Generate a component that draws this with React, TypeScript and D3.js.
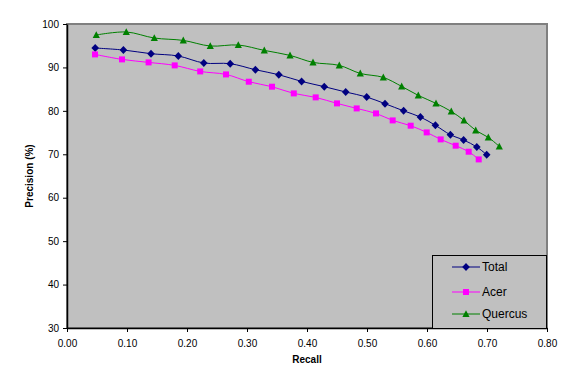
import React, { useEffect, useRef } from "react";
import * as d3 from "d3";

const totalRecall = [0.047, 0.094, 0.14, 0.1855, 0.228, 0.272, 0.314, 0.353, 0.391, 0.4288, 0.4645, 0.4995, 0.53, 0.561, 0.589, 0.614, 0.639, 0.661, 0.683, 0.6995];
const totalPrecision = [94.47, 94.01, 93.16, 92.63, 91.02, 90.86, 89.47, 88.32, 86.78, 85.57, 84.34, 83.19, 81.65, 80.0, 78.58, 76.67, 74.49, 73.29, 71.68, 69.9];
const acerRecall = [0.0467, 0.0917, 0.136, 0.1795, 0.222, 0.265, 0.303, 0.3417, 0.378, 0.4145, 0.45, 0.4828, 0.515, 0.5428, 0.5728, 0.5995, 0.6228, 0.6478, 0.6695, 0.6862];
const acerPrecision = [93.0, 91.85, 91.16, 90.47, 89.08, 88.39, 86.71, 85.56, 84.02, 83.1, 81.72, 80.56, 79.41, 77.8, 76.58, 75.04, 73.43, 71.98, 70.59, 68.82];
const quercusRecall = [0.0488, 0.0988, 0.1455, 0.1938, 0.2388, 0.2855, 0.3288, 0.3717, 0.41, 0.4538, 0.4888, 0.5272, 0.5578, 0.5855, 0.615, 0.6405, 0.6617, 0.6812, 0.7022, 0.7205];
const quercusPrecision = [97.47, 98.16, 96.77, 96.22, 94.93, 95.16, 93.92, 92.77, 91.16, 90.47, 88.62, 87.7, 85.63, 83.56, 81.72, 79.87, 77.8, 75.5, 73.89, 71.81];

const seriesNames = ["Total", "Acer", "Quercus"];
const xTicks = [0, 0.1, 0.2, 0.3, 0.4, 0.5, 0.6, 0.7, 0.8];
const yTicks = [30, 40, 50, 60, 70, 80, 90, 100];

const W = 576, H = 376;
const plot = { left: 67, right: 547, top: 24, bottom: 328 };
const colors = ["#000080", "#FF00FF", "#008000"];
const font = "'Liberation Sans', Arial, sans-serif";

const diamond = "M0,-4L3.8,0L0,4L-3.8,0Z";
const square = "M-3,-3H3V3H-3Z";
const triangle = "M0,-3.8L3.6,3L-3.6,3Z";
const markerPaths = [diamond, square, triangle];

export default function App() {
  const ref = useRef<SVGSVGElement>(null);
  useEffect(() => {
    const svg = d3.select(ref.current);
    svg.selectAll("*").remove();
    const x = d3.scaleLinear().domain([0, 0.8]).range([plot.left, plot.right]);
    const y = d3.scaleLinear().domain([30, 100]).range([plot.bottom, plot.top]);

    svg.append("rect").attr("x", 0).attr("y", 0).attr("width", W).attr("height", H).attr("fill", "#fff");
    svg.append("rect")
      .attr("x", plot.left).attr("y", plot.top)
      .attr("width", plot.right - plot.left).attr("height", plot.bottom - plot.top)
      .attr("fill", "#C0C0C0").attr("stroke", "#808080").attr("stroke-width", 2);

    const series = [
      { name: seriesNames[0], xs: totalRecall, ys: totalPrecision },
      { name: seriesNames[1], xs: acerRecall, ys: acerPrecision },
      { name: seriesNames[2], xs: quercusRecall, ys: quercusPrecision },
    ];

    const line = d3.line<[number, number]>()
      .x(d => x(d[0])).y(d => y(d[1]))
      .curve(d3.curveCatmullRom.alpha(0.5));

    series.forEach((s, i) => {
      const pts: [number, number][] = s.xs.map((v, k) => [v, s.ys[k]]);
      svg.append("path").attr("d", line(pts)!).attr("fill", "none")
        .attr("stroke", colors[i]).attr("stroke-width", 1);
    });
    series.forEach((s, i) => {
      s.xs.forEach((v, k) => {
        svg.append("path").attr("d", markerPaths[i])
          .attr("transform", `translate(${x(v)},${y(s.ys[k])})`)
          .attr("fill", colors[i]);
      });
    });

    // axes
    const gx = svg.append("g").attr("transform", `translate(0,${plot.bottom})`);
    gx.call(d3.axisBottom(x).tickValues(xTicks).tickFormat(d3.format(".2f")).tickSize(4).tickSizeOuter(0));
    gx.select(".domain").attr("stroke", "#000").attr("stroke-width", 1.5);
    gx.selectAll(".tick line").attr("stroke", "#000");
    gx.selectAll("text").attr("font-family", font).attr("font-size", 10).attr("fill", "#000").attr("dy", "1.2em");

    const gy = svg.append("g").attr("transform", `translate(${plot.left},0)`);
    gy.call(d3.axisLeft(y).tickValues(yTicks).tickSize(4).tickSizeOuter(0));
    gy.select(".domain").attr("stroke", "#000").attr("stroke-width", 1.5);
    gy.selectAll(".tick line").attr("stroke", "#000");
    gy.selectAll("text").attr("font-family", font).attr("font-size", 10).attr("fill", "#000").attr("x", -8);

    svg.append("text").attr("x", (plot.left + plot.right) / 2).attr("y", 363)
      .attr("text-anchor", "middle").attr("font-family", font).attr("font-size", 10)
      .attr("font-weight", "bold").text("Recall");
    svg.append("text").attr("transform", `translate(33,${(plot.top + plot.bottom) / 2}) rotate(-90)`)
      .attr("text-anchor", "middle").attr("font-family", font).attr("font-size", 10)
      .attr("font-weight", "bold").text("Precision (%)");

    // legend
    const lg = svg.append("g");
    lg.append("rect").attr("x", 432.5).attr("y", 255.5).attr("width", 114).attr("height", 73)
      .attr("fill", "#C0C0C0").attr("stroke", "#000").attr("stroke-width", 1);
    const ly = [267, 292, 314];
    series.forEach((s, i) => {
      lg.append("line").attr("x1", 452).attr("x2", 480).attr("y1", ly[i]).attr("y2", ly[i])
        .attr("stroke", colors[i]).attr("stroke-width", 1);
      lg.append("path").attr("d", markerPaths[i]).attr("transform", `translate(466,${ly[i]})`).attr("fill", colors[i]);
      lg.append("text").attr("x", 482).attr("y", ly[i]).attr("dy", "0.35em")
        .attr("font-family", font).attr("font-size", 12).text(s.name);
    });
  }, []);
  return (
    <div style={{ position: "absolute", left: 0, top: 0 }}>
      <svg ref={ref} width={W} height={H} style={{ display: "block" }} />
    </div>
  );
}
